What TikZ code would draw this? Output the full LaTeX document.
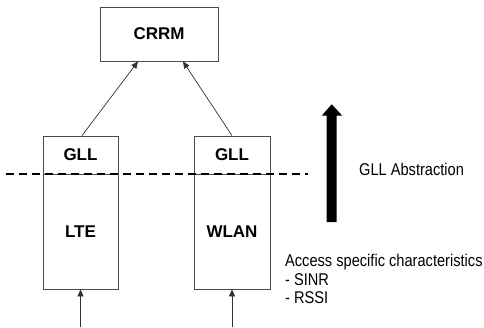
\documentclass[tikz,border=0pt]{standalone}
\usepackage{fontspec}
\setmainfont{Liberation Sans}
\usetikzlibrary{arrows.meta,calc}
\begin{document}
\begin{tikzpicture}[x=1pt,y=-1pt,
  box/.style={draw=black!70,line width=0.8pt,inner sep=0pt,
    font=\fontsize{17}{20}\selectfont\bfseries},
  link/.style={draw=black!80,line width=0.7pt,
    -{Triangle[length=7pt,width=6pt]}},
  note/.style={font=\fontsize{17}{20}\selectfont,inner sep=0pt,xscale=0.86}]
\useasboundingbox (0,0) rectangle (484,327);

% controller on top
\node[box,minimum width=118pt,minimum height=54pt] (crrm) at (159,34) {CRRM};

% left stack: GLL over LTE
\node[box,minimum width=75pt,minimum height=38pt] (gllA) at (80.5,155) {GLL};
\node[box,minimum width=75pt,minimum height=115pt] (lte) at (80.5,231.5) {LTE};

% right stack: GLL over WLAN
\node[box,minimum width=76pt,minimum height=38pt] (gllB) at (232,155) {GLL};
\node[box,minimum width=76pt,minimum height=115pt] (wlan) at (232,231.5) {WLAN};

% upward reports to the controller
\draw[link] ([xshift=1.5pt]gllA.north) -- ([xshift=-21pt]crrm.south);
\draw[link] ([xshift=0pt]gllB.north) -- ([xshift=24pt]crrm.south);

% inputs from below
\coordinate (inA) at (80.5,327);
\coordinate (inB) at (232,327);
\draw[link] (inA) -- (lte.south);
\draw[link] (inB) -- (wlan.south);

% abstraction boundary
\coordinate (dashL) at (6,174);
\coordinate (dashR) at (308,174);
\draw[black,line width=1.8pt,dash pattern=on 8pt off 5pt] (dashL) -- (dashR);

% bold upward arrow
\fill[black] (326.7,222) -- (336.7,222) -- (336.7,115.7) -- (342.3,115.7)
  -- (331.7,104.3) -- (321.7,115.7) -- (326.7,115.7) -- cycle;

% side notes
\node[note,anchor=base west] (abs) at (359,175) {GLL Abstraction};
\node[note,anchor=base west] (acc) at (285,266.5) {Access specific characteristics};
\node[note,anchor=base west] (sinr) at (285,285) {- SINR};
\node[note,anchor=base west] (rssi) at (285,303.5) {- RSSI};
\end{tikzpicture}
\end{document}
